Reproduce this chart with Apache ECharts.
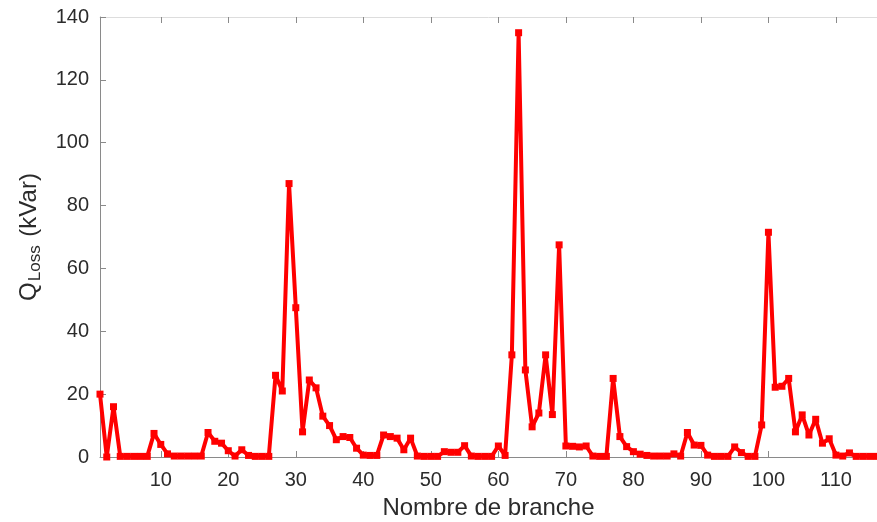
<!DOCTYPE html>
<html>
<head>
<meta charset="utf-8">
<script src="https://cdn.jsdelivr.net/npm/echarts@6/dist/echarts.min.js"></script>
<style>
  html, body { margin: 0; padding: 0; background: #fff; }
  #chart { width: 877px; height: 522px; }
</style>
</head>
<body>
<div id="chart"></div>
<script>
// branch numbers 1..117
const branches = [
  1, 2, 3, 4, 5, 6, 7, 8, 9, 10,
  11, 12, 13, 14, 15, 16, 17, 18, 19, 20,
  21, 22, 23, 24, 25, 26, 27, 28, 29, 30,
  31, 32, 33, 34, 35, 36, 37, 38, 39, 40,
  41, 42, 43, 44, 45, 46, 47, 48, 49, 50,
  51, 52, 53, 54, 55, 56, 57, 58, 59, 60,
  61, 62, 63, 64, 65, 66, 67, 68, 69, 70,
  71, 72, 73, 74, 75, 76, 77, 78, 79, 80,
  81, 82, 83, 84, 85, 86, 87, 88, 89, 90,
  91, 92, 93, 94, 95, 96, 97, 98, 99, 100,
  101, 102, 103, 104, 105, 106, 107, 108, 109, 110,
  111, 112, 113, 114, 115, 116, 117
]
// pertes réactives (kVar)
const qLoss = [
  20, 0, 16, 0.2, 0.2, 0.2, 0.2, 0.2, 7.5, 4,
  1, 0.3, 0.3, 0.3, 0.3, 0.3, 7.8, 5, 4.4, 2,
  0.3, 2.3, 0.5, 0.2, 0.2, 0.2, 26, 21, 87, 47.5,
  8, 24.5, 22, 13, 10, 5.5, 6.5, 6.2, 2.8, 0.6,
  0.5, 0.5, 7, 6.5, 6, 2.3, 6, 0.3, 0.2, 0.2,
  0.2, 1.7, 1.5, 1.5, 3.6, 0.3, 0.2, 0.2, 0.2, 3.5,
  0.5, 32.5, 135, 27.7, 9.6, 14, 32.5, 13.5, 67.5, 3.5,
  3.4, 3.2, 3.5, 0.3, 0.2, 0.2, 25, 6.5, 3.3, 1.7,
  0.9, 0.5, 0.3, 0.3, 0.3, 1, 0.3, 7.8, 3.8, 3.7,
  0.6, 0.2, 0.2, 0.2, 3.2, 1.4, 0.2, 0.2, 10.2, 71.5,
  22.2, 22.5, 25, 8, 13.4, 7, 12, 4.4, 5.8, 0.6,
  0.3, 1.3, 0.2, 0.2, 0.2, 0.2, 0.2
]
const xTicks = [10, 20, 30, 40, 50, 60, 70, 80, 90, 100, 110]
// the reference is cropped on the right: the visible x range ends near 116.1
const xMin = 1
const xMax = 116.08

const chart = echarts.init(document.getElementById('chart'))
const axisGrey = '#8a8a8a'
const labelColor = '#2b2b2b'
const fontFamily = 'Liberation Sans, Arial, sans-serif'

const option = {
  backgroundColor: '#fff',
  animation: false,
  grid: {
    left: 100,
    top: 17,
    right: 0,
    height: 440,
    outerBoundsMode: 'none'
  },
  xAxis: [{
    type: 'value',
    min: xMin,
    max: xMax,
    name: 'Nombre de branche',
    nameLocation: 'middle',
    nameGap: 39,
    nameTextStyle: { fontSize: 24, color: labelColor, fontFamily: fontFamily },
    axisLine: { lineStyle: { color: axisGrey, width: 1 } },
    axisTick: {
      inside: true,
      length: 6,
      lineStyle: { color: axisGrey },
      customValues: xTicks
    },
    axisLabel: {
      fontSize: 20,
      color: labelColor,
      fontFamily: fontFamily,
      margin: 13,
      customValues: xTicks
    },
    splitLine: { show: false }
  }, {
    type: 'value',
    position: 'top',
    min: xMin,
    max: xMax,
    axisLine: { show: true, onZero: false, lineStyle: { color: '#dddddd', width: 1 } },
    axisTick: { show: true, inside: true, length: 6, lineStyle: { color: axisGrey }, customValues: xTicks },
    axisLabel: { show: false },
    splitLine: { show: false }
  }],
  yAxis: {
    type: 'value',
    min: 0,
    max: 140,
    interval: 20,
    name: '{q|Q}{sub|Loss}{q| (kVar)}',
    nameLocation: 'middle',
    nameGap: 56,
    nameTextStyle: {
      color: labelColor,
      fontFamily: fontFamily,
      padding: [0, 0, 0, 0],
      rich: {
        q: { fontSize: 24, color: labelColor, fontFamily: fontFamily, lineHeight: 30 },
        sub: { fontSize: 17, color: labelColor, fontFamily: fontFamily, verticalAlign: 'bottom', lineHeight: 17, padding: [12, 2, 0, 1] }
      }
    },
    axisLine: { show: true, lineStyle: { color: axisGrey, width: 1 } },
    axisTick: { show: true, inside: true, length: 6, lineStyle: { color: axisGrey } },
    axisLabel: { fontSize: 20, color: labelColor, fontFamily: fontFamily, margin: 11 },
    splitLine: { show: false }
  },
  series: [{
    type: 'line',
    data: branches.map((b, i) => [b, qLoss[i]]),
    clip: false,
    symbol: 'rect',
    symbolSize: 7,
    showAllSymbol: true,
    lineStyle: { color: '#ff0000', width: 4 },
    itemStyle: { color: '#ff0000' },
    z: 5
  }]
}
chart.setOption(option)
</script>
</body>
</html>
